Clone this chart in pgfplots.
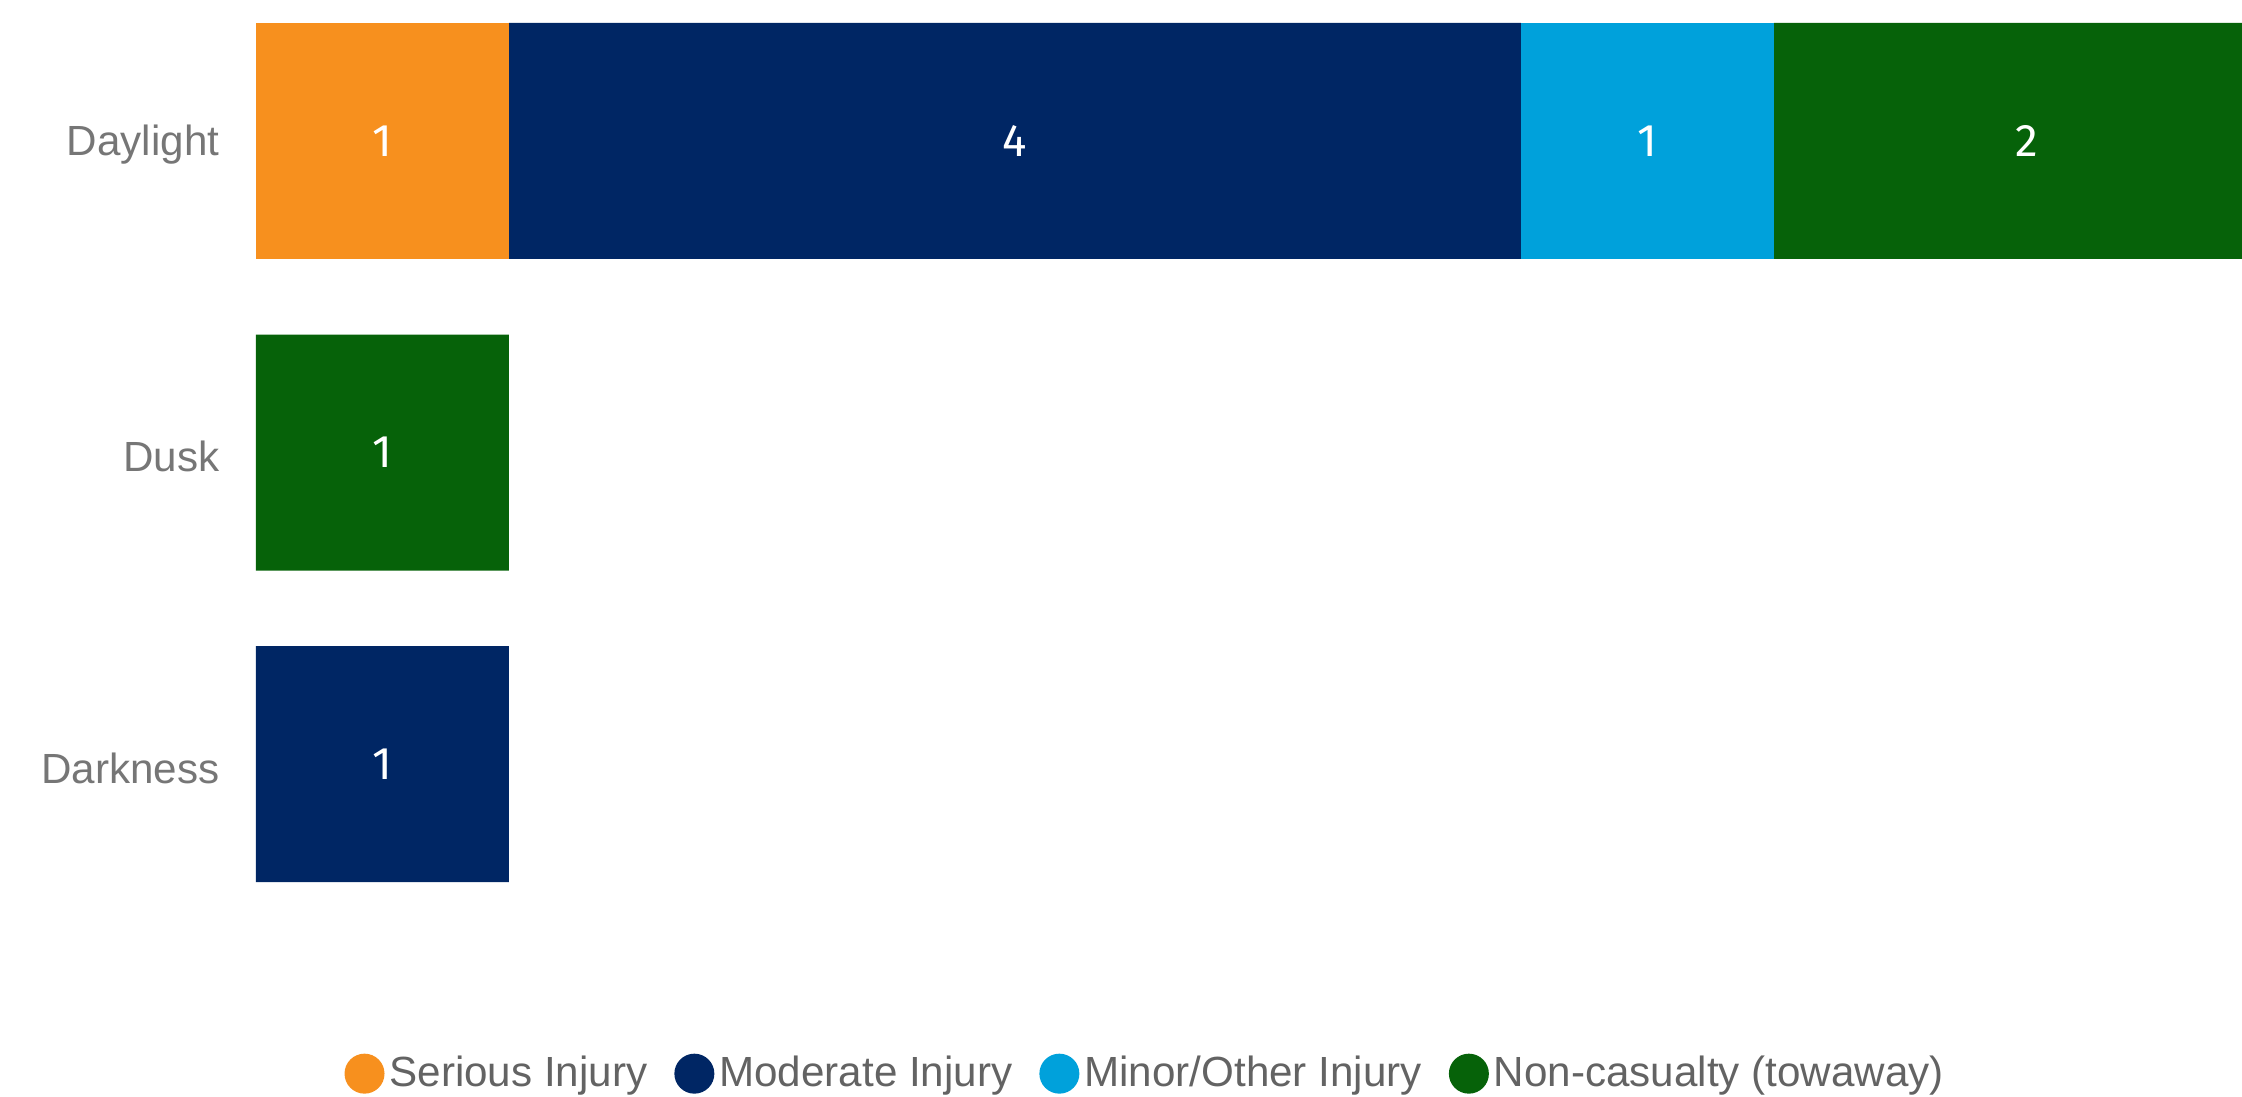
\documentclass[border=0pt]{standalone}
\usepackage{pgfplots}
\pgfplotsset{compat=1.18}
\usepackage{fontspec}
\setmainfont{Liberation Sans}
\newfontfamily\numfont{Fira Sans}
\definecolor{cSer}{HTML}{F7901E}
\definecolor{cMod}{HTML}{002664}
\definecolor{cMin}{HTML}{00A1DB}
\definecolor{cNon}{HTML}{066209}
\definecolor{lblgray}{HTML}{767676}
\definecolor{leggray}{HTML}{636363}
\begin{document}
\begin{tikzpicture}
\useasboundingbox (0,0) rectangle (224.2mm,109.6mm);
\pgfplotsset{
  base/.style={
    scale only axis,
    at={(25.6mm,17.6mm)}, anchor=south west,
    width=198.6mm, height=92mm,
    xmin=0, xmax=7.85,
    ymin=-0.452, ymax=2.5,
    y dir=reverse,
    axis line style={draw=none},
    major tick length=0pt,
    xtick=\empty,
  }
}
\begin{axis}[base,
  xbar stacked,
  bar width=23.6mm,
  ytick={0,1,2},
  yticklabels={Daylight,Dusk,Darkness},
  yticklabel style={inner sep=0pt, xshift=-3.6mm, yshift=-0.4mm, text=lblgray, font=\fontsize{12pt}{14pt}\selectfont},
  legend columns=4,
  legend style={draw=none, fill=none,
    at={(axis description cs:0.4485,-0.167)}, anchor=center,
    font=\fontsize{12pt}{14pt}\selectfont, text=leggray,
    nodes={inner sep=0.5mm},
    /tikz/every even column/.append style={column sep=2.2mm}},
  legend image code/.code={\fill[#1] (2.0mm,0mm) circle (2.0mm);},
]
\addplot[fill=cSer, draw=none] coordinates {(1,0) (0,1) (0,2)};
\addplot[fill=cMod, draw=none] coordinates {(4,0) (0,1) (1,2)};
\addplot[fill=cMin, draw=none] coordinates {(1,0) (0,1) (0,2)};
\addplot[fill=cNon, draw=none] coordinates {(2,0) (1,1) (0,2)};
\legend{Serious Injury,Moderate Injury,Minor/Other Injury,Non-casualty (towaway)}
\end{axis}
\begin{axis}[base, ytick=\empty, clip=false]
\addplot[draw=none, mark=none, nodes near coords, point meta=explicit symbolic,
  every node near coord/.style={anchor=center, text=white, font=\numfont\fontsize{13pt}{15pt}\selectfont}]
  coordinates {(0.5,0) [1] (3,0) [4] (5.5,0) [1] (7,0) [2] (0.5,1) [1] (0.5,2) [1]};
\end{axis}
\end{tikzpicture}
\end{document}
